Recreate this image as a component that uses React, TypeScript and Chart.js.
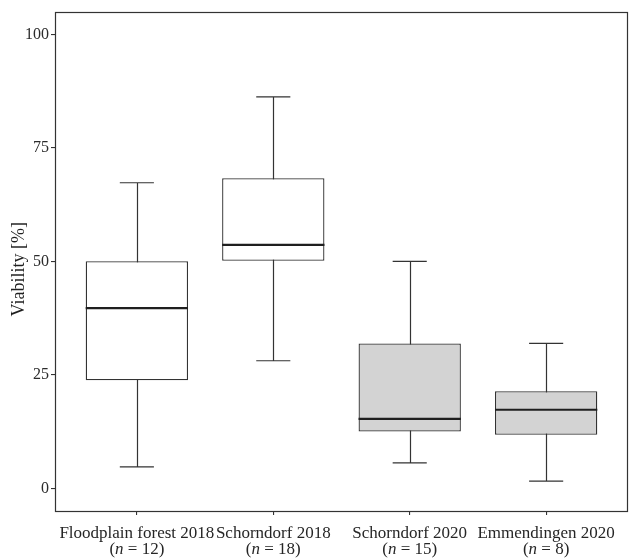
import React, { useEffect, useRef } from "react";
import { Chart, registerables } from "chart.js";

Chart.register(...registerables);

// ---- data ----
const categories = ["Floodplain forest 2018", "Schorndorf 2018", "Schorndorf 2020", "Emmendingen 2020"];
const sampleSizes = [12, 18, 15, 8];
const whiskerLow = [4.7, 28.1, 5.6, 1.6];
const q1 = [23.8, 50.1, 12.5, 11.8];
const medians = [39.7, 53.6, 15.3, 17.3];
const q3 = [50.0, 68.3, 31.9, 21.4];
const whiskerHigh = [67.3, 86.2, 50.0, 31.9];
const yTicks = [0, 25, 50, 75, 100];
const yTitle = "Viability [%]";

// ---- styles ----
const FILLS = ["#ffffff", "#ffffff", "#d3d3d3", "#d3d3d3"];
const LINE = "#333333";
const FONT = "'Liberation Serif', 'Times New Roman', serif";

const boxPlugin = {
  id: "boxExtras",
  beforeDatasetsDraw(chart: any) {
    const { ctx, scales } = chart;
    const x = scales.x;
    const y = scales.y;
    ctx.save();
    ctx.strokeStyle = LINE;
    ctx.lineWidth = 1.2;
    categories.forEach((_, i) => {
      const cx = Math.round(x.getPixelForValue(i + 1)) + 0.5;
      const left = x.getPixelForValue(i + 1 - 0.125);
      const right = x.getPixelForValue(i + 1 + 0.125);
      const yLo = y.getPixelForValue(whiskerLow[i]);
      const yHi = y.getPixelForValue(whiskerHigh[i]);
      ctx.beginPath();
      ctx.moveTo(cx, yLo);
      ctx.lineTo(cx, yHi);
      ctx.moveTo(left, yLo);
      ctx.lineTo(right, yLo);
      ctx.moveTo(left, yHi);
      ctx.lineTo(right, yHi);
      ctx.stroke();
    });
    ctx.restore();
  },
  afterDatasetsDraw(chart: any) {
    const { ctx, scales } = chart;
    const x = scales.x;
    const y = scales.y;
    ctx.save();
    ctx.strokeStyle = "#1f1f1f";
    ctx.lineWidth = 2.2;
    categories.forEach((_, i) => {
      const left = x.getPixelForValue(i + 1 - 0.375);
      const right = x.getPixelForValue(i + 1 + 0.375);
      const ym = y.getPixelForValue(medians[i]);
      ctx.beginPath();
      ctx.moveTo(left, ym);
      ctx.lineTo(right, ym);
      ctx.stroke();
    });
    ctx.restore();
  },
  afterDraw(chart: any) {
    const { ctx, chartArea, scales } = chart;
    const x = scales.x;
    ctx.save();
    // panel border
    ctx.strokeStyle = LINE;
    ctx.lineWidth = 1.2;
    ctx.strokeRect(
      Math.round(chartArea.left) + 0.5,
      Math.round(chartArea.top) + 0.5,
      Math.round(chartArea.right - chartArea.left) - 1,
      Math.round(chartArea.bottom - chartArea.top)
    );
    // y title
    ctx.save();
    ctx.fillStyle = "#1f1f1f";
    ctx.font = `18px ${FONT}`;
    ctx.textAlign = "center";
    ctx.textBaseline = "middle";
    ctx.translate(19, (chartArea.top + chartArea.bottom) / 2 + 8);
    ctx.rotate(-Math.PI / 2);
    ctx.fillText(yTitle, 0, 0);
    ctx.restore();
    // x labels
    const size = 17;
    ctx.fillStyle = "#262626";
    ctx.textBaseline = "alphabetic";
    categories.forEach((cat, i) => {
      const cx = x.getPixelForValue(i + 1);
      ctx.font = `${size}px ${FONT}`;
      ctx.textAlign = "center";
      ctx.fillText(cat, cx, chartArea.bottom + 27);
      const normal = `${size}px ${FONT}`;
      const italic = `italic ${size}px ${FONT}`;
      const parts: [string, string][] = [
        ["(", normal],
        ["n", italic],
        [" = " + sampleSizes[i] + ")", normal],
      ];
      let total = 0;
      const widths = parts.map(([t, f]) => {
        ctx.font = f;
        const w = ctx.measureText(t).width;
        total += w;
        return w;
      });
      let px = cx - total / 2;
      ctx.textAlign = "left";
      parts.forEach(([t, f], k) => {
        ctx.font = f;
        ctx.fillText(t, px, chartArea.bottom + 43);
        px += widths[k];
      });
    });
    ctx.restore();
  },
};

export default function App() {
  const ref = useRef<HTMLCanvasElement | null>(null);

  useEffect(() => {
    if (!ref.current) return;
    const chart = new Chart(ref.current, {
      type: "bar",
      data: {
        datasets: [
          {
            data: categories.map((_, i) => ({ x: i + 1, y: [q1[i], q3[i]] })) as any,
            backgroundColor: FILLS,
            borderColor: LINE,
            borderWidth: 1.3,
            borderSkipped: false,
            barPercentage: 0.75,
            categoryPercentage: 1,
          },
        ],
      },
      options: {
        responsive: false,
        animation: false,
        events: [],
        layout: { padding: { left: 0, top: 9, right: 2, bottom: 0 } },
        plugins: {
          legend: { display: false },
          tooltip: { enabled: false },
        },
        scales: {
          x: {
            type: "linear",
            min: 0.4,
            max: 4.6,
            offset: false,
            afterBuildTicks: (s: any) => {
              s.ticks = categories.map((_, i) => ({ value: i + 1 }));
            },
            afterFit: (s: any) => {
              s.height = 49;
            },
            ticks: { display: false },
            grid: {
              offset: false,
              drawOnChartArea: false,
              drawTicks: true,
              tickLength: 4,
              color: LINE,
              lineWidth: 1.1,
            },
            border: { display: false },
          },
          y: {
            type: "linear",
            min: -5,
            max: 105,
            afterBuildTicks: (s: any) => {
              s.ticks = yTicks.map((v) => ({ value: v }));
            },
            afterFit: (s: any) => {
              s.width = 55;
            },
            ticks: {
              color: "#2b2b2b",
              font: { family: FONT, size: 16 },
              padding: 2,
              callback: (v: any) => String(v),
            },
            grid: {
              drawOnChartArea: false,
              drawTicks: true,
              tickLength: 4,
              color: LINE,
              lineWidth: 1.1,
            },
            border: { display: false },
          },
        },
      },
      plugins: [boxPlugin],
    });
    return () => chart.destroy();
  }, []);

  return (
    <div style={{ position: "fixed", left: 0, top: 0, width: 630, height: 560, background: "#ffffff" }}>
      <canvas ref={ref} width={630} height={560} style={{ display: "block" }} />
    </div>
  );
}
